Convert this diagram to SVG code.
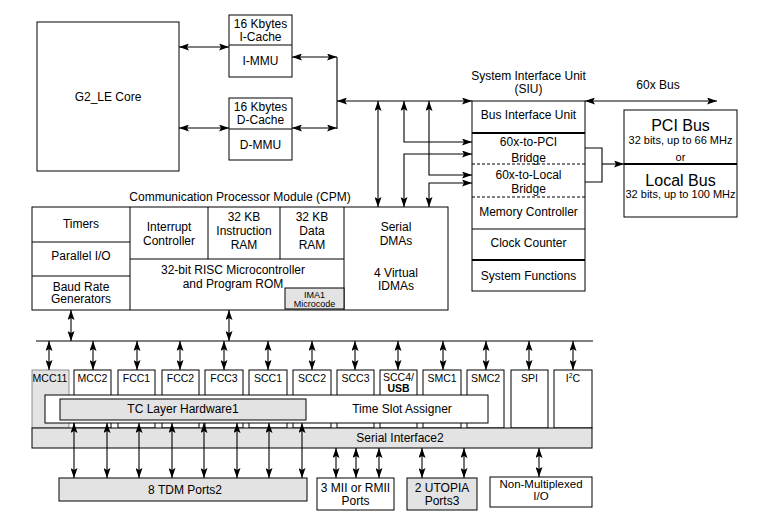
<svg xmlns="http://www.w3.org/2000/svg" width="761" height="513" viewBox="0 0 761 513">
<style>
text{font-family:"Liberation Sans",Arial,sans-serif;font-size:12px;fill:#000;text-anchor:middle}
.s{font-size:10.5px}
.t{font-size:11px}
.b{font-size:16px}
.m{font-size:9px}
.n{font-size:11.5px}
.box{fill:#fff;stroke:#000;stroke-width:1}
.g{fill:#e3e3e3;stroke:#000;stroke-width:1}
.ln{fill:none;stroke:#000;stroke-width:1}
.th{fill:none;stroke:#000;stroke-width:2}
.ds{fill:none;stroke:#000;stroke-width:1.2;stroke-dasharray:3 2}
.c{fill:none;stroke:#000;stroke-width:1.1;marker-start:url(#a);marker-end:url(#a)}
.c1{fill:none;stroke:#000;stroke-width:1.1;marker-end:url(#a)}
.p{fill:none;stroke:#000;stroke-width:1.1}
</style>
<defs>
<marker id="a" viewBox="0 0 10 7" refX="10" refY="3.5" markerWidth="10" markerHeight="7" markerUnits="userSpaceOnUse" orient="auto-start-reverse">
<path d="M0,0 L10,3.5 L0,7 L2,3.5 z" fill="#000"/>
</marker>
</defs>
<rect width="761" height="513" fill="#fff"/>

<g id="core"><rect class="box" x="37" y="22" width="142" height="149"/><text x="108" y="101">G2_LE Core</text></g>
<g id="icache"><rect class="box" x="229" y="15" width="63" height="62"/><line class="ln" x1="229" y1="45" x2="292" y2="45"/><text x="260.5" y="28">16 Kbytes</text><text x="260.5" y="41">I-Cache</text><text x="260.5" y="65">I-MMU</text></g>
<g id="dcache"><rect class="box" x="229" y="98" width="63" height="62"/><line class="ln" x1="229" y1="129" x2="292" y2="129"/><text x="260.5" y="111">16 Kbytes</text><text x="260.5" y="124">D-Cache</text><text x="260.5" y="149">D-MMU</text></g>

<g id="siu">
<text x="528.5" y="80">System Interface Unit</text><text x="528.5" y="93">(SIU)</text>
<rect class="box" x="472" y="101" width="113" height="190"/>
<line class="th" x1="472" y1="133" x2="585" y2="133"/>
<line class="ds" x1="472" y1="164" x2="585" y2="164"/>
<line class="ds" x1="472" y1="197" x2="585" y2="197"/>
<line class="ln" x1="472" y1="229" x2="585" y2="229"/>
<line class="th" x1="472" y1="260" x2="585" y2="260"/>
<text x="528.5" y="119">Bus Interface Unit</text>
<text x="528.5" y="146">60x-to-PCI</text><text x="528.5" y="162">Bridge</text>
<text x="528.5" y="179">60x-to-Local</text><text x="528.5" y="192.5">Bridge</text>
<text x="528.5" y="216">Memory Controller</text>
<text x="528.5" y="247">Clock Counter</text>
<text x="528.5" y="280">System Functions</text>
</g>
<g id="bus60x"><text x="658" y="89">60x Bus</text></g>
<g id="pci">
<rect class="box" x="624" y="110" width="113" height="107"/>
<line class="th" x1="624" y1="164" x2="737" y2="164"/>
<text class="b" x="680.5" y="131">PCI Bus</text>
<text class="t" x="680.5" y="144">32 bits, up to 66 MHz</text>
<text class="t" x="680.5" y="160.5">or</text>
<text class="b" x="680.5" y="185.5">Local Bus</text>
<text class="t" x="680.5" y="198">32 bits, up to 100 MHz</text>
</g>

<g id="cpm">
<text x="240" y="200.5">Communication Processor Module (CPM)</text>
<rect class="box" x="32" y="207" width="416" height="103"/>
<line class="ln" x1="130" y1="207" x2="130" y2="310"/>
<line class="ln" x1="32" y1="242" x2="130" y2="242"/>
<line class="ln" x1="32" y1="276" x2="130" y2="276"/>
<line class="ln" x1="208" y1="207" x2="208" y2="259"/>
<line class="ln" x1="280" y1="207" x2="280" y2="259"/>
<line class="ln" x1="130" y1="259" x2="344" y2="259"/>
<line class="ln" x1="344" y1="207" x2="344" y2="310"/>
<g id="timers"><text x="81" y="227.5">Timers</text></g>
<g id="pio"><text x="81" y="259.5">Parallel I/O</text></g>
<g id="brg"><text x="81" y="290.5">Baud Rate</text><text x="81" y="303">Generators</text></g>
<g id="intc"><text x="169" y="231">Interrupt</text><text x="169" y="245.3">Controller</text></g>
<g id="iram"><text x="244" y="221">32 KB</text><text x="244" y="235">Instruction</text><text x="244" y="248.5">RAM</text></g>
<g id="dram"><text x="312" y="221">32 KB</text><text x="312" y="235">Data</text><text x="312" y="248.5">RAM</text></g>
<g id="risc"><text x="233" y="274.3">32-bit RISC Microcontroller</text><text x="233" y="288.3">and Program ROM</text></g>
<g id="ima"><rect class="g" x="285" y="288" width="59" height="21"/><text class="m" x="314.5" y="297.5">IMA1</text><text class="m" x="314.5" y="306.5">Microcode</text></g>
<g id="dma"><text x="396" y="231">Serial</text><text x="396" y="245">DMAs</text><text x="396" y="277">4 Virtual</text><text x="396" y="290">IDMAs</text></g>
</g>

<g id="mcc1"><rect x="32" y="370" width="37" height="58" fill="#e3e3e3" stroke="#777" stroke-width="0.8"/><text class="s" x="50" y="381.5">MCC11</text></g>
<g id="mcc2"><rect class="box" x="74" y="370" width="37" height="58"/><text class="s" x="92.5" y="381.5">MCC2</text></g>
<g id="fcc1"><rect class="box" x="118" y="370" width="37" height="58"/><text class="s" x="136.5" y="381.5">FCC1</text></g>
<g id="fcc2"><rect class="box" x="162" y="370" width="37" height="58"/><text class="s" x="180.5" y="381.5">FCC2</text></g>
<g id="fcc3"><rect class="box" x="205" y="370" width="38" height="58"/><text class="s" x="224" y="381.5">FCC3</text></g>
<g id="scc1"><rect class="box" x="249" y="370" width="38" height="58"/><text class="s" x="268" y="381.5">SCC1</text></g>
<g id="scc2"><rect class="box" x="293" y="370" width="38" height="58"/><text class="s" x="312" y="381.5">SCC2</text></g>
<g id="scc3"><rect class="box" x="337" y="370" width="37" height="58"/><text class="s" x="355.5" y="381.5">SCC3</text></g>
<g id="scc4"><rect class="box" x="380" y="370" width="37" height="58"/><text class="s" x="398.5" y="381">SCC4/</text><text class="s" x="398.5" y="392" font-weight="bold">USB</text></g>
<g id="smc1"><rect class="box" x="423" y="370" width="38" height="58"/><text class="s" x="442" y="381.5">SMC1</text></g>
<g id="smc2"><rect class="box" x="467" y="370" width="37" height="58"/><text class="s" x="485.5" y="381.5">SMC2</text></g>
<g id="spi"><rect class="box" x="511" y="370" width="37" height="58"/><text class="s" x="529.5" y="381.5">SPI</text></g>
<g id="i2c"><rect class="box" x="554" y="370" width="38" height="58"/><text class="s" x="573" y="381.5">I<tspan font-size="7" dy="-4">2</tspan><tspan dy="4">C</tspan></text></g>

<g id="tsa"><rect class="box" x="45" y="395" width="443" height="28"/><text x="402" y="413.3">Time Slot Assigner</text></g>
<g id="tc"><rect class="g" x="60" y="399" width="246" height="21" stroke-width="1.3"/><text x="183" y="413.3">TC Layer Hardware1</text></g>
<g id="si"><rect class="g" x="32" y="428" width="560" height="20"/><text x="400" y="442.3">Serial Interface2</text></g>

<g id="tdm"><rect class="g" x="59" y="478" width="248" height="23"/><text x="185" y="494.3">8 TDM Ports2</text></g>
<g id="mii"><rect class="box" x="317" y="478" width="77" height="32"/><text x="355.5" y="492">3 MII or RMII</text><text x="355.5" y="504.5">Ports</text></g>
<g id="utopia"><rect class="g" x="407" y="478" width="70" height="32"/><text x="442" y="492">2 UTOPIA</text><text x="442" y="504.5">Ports3</text></g>
<g id="nonmux"><rect class="box" x="490" y="477" width="102" height="30"/><text class="n" x="541" y="487.5">Non-Multiplexed</text><text class="n" x="541" y="499.5">I/O</text></g>

<g id="connectors">
<line class="c" x1="179" y1="47" x2="229" y2="47"/>
<line class="c" x1="179" y1="128" x2="229" y2="128"/>
<line class="c" x1="292" y1="57" x2="337" y2="57"/>
<line class="c" x1="292" y1="128" x2="337" y2="128"/>
<line class="p" x1="337" y1="57" x2="337" y2="129"/>
<line class="c" x1="337" y1="101" x2="472" y2="101"/>
<line class="c" x1="378" y1="101" x2="378" y2="207"/>
<path class="c" d="M472,142 L404,142 L404,101"/>
<path class="c" d="M472,154 L404,154 L404,207"/>
<path class="c" d="M472,175 L429,175 L429,101"/>
<path class="c" d="M472,183 L429,183 L429,207"/>
<line class="c" x1="585" y1="101" x2="717" y2="101"/>
<path class="p" d="M585,148 L602,148 L602,182 L585,182"/>
<line class="c1" x1="602" y1="164" x2="624" y2="164"/>
<line class="c" x1="71" y1="310" x2="71" y2="341"/>
<line class="c" x1="229" y1="310" x2="229" y2="341"/>
<line class="p" x1="36" y1="341" x2="593" y2="341"/>
<line class="c" x1="49" y1="341" x2="49" y2="370"/>
<line class="c" x1="93" y1="341" x2="93" y2="370"/>
<line class="c" x1="137" y1="341" x2="137" y2="370"/>
<line class="c" x1="180" y1="341" x2="180" y2="370"/>
<line class="c" x1="224" y1="341" x2="224" y2="370"/>
<line class="c" x1="268" y1="341" x2="268" y2="370"/>
<line class="c" x1="312" y1="341" x2="312" y2="370"/>
<line class="c" x1="355" y1="341" x2="355" y2="370"/>
<line class="c" x1="398" y1="341" x2="398" y2="370"/>
<line class="c" x1="443" y1="341" x2="443" y2="370"/>
<line class="c" x1="486" y1="341" x2="486" y2="370"/>
<line class="c" x1="529" y1="341" x2="529" y2="370"/>
<line class="c" x1="573" y1="341" x2="573" y2="370"/>
<line class="c" x1="74" y1="423" x2="74" y2="478"/>
<line class="c" x1="107" y1="423" x2="107" y2="478"/>
<line class="c" x1="139" y1="423" x2="139" y2="478"/>
<line class="c" x1="172" y1="423" x2="172" y2="478"/>
<line class="c" x1="204" y1="423" x2="204" y2="478"/>
<line class="c" x1="237" y1="423" x2="237" y2="478"/>
<line class="c" x1="269" y1="423" x2="269" y2="478"/>
<line class="c" x1="302" y1="423" x2="302" y2="478"/>
<line class="c" x1="336" y1="448" x2="336" y2="478"/>
<line class="c" x1="356" y1="448" x2="356" y2="478"/>
<line class="c" x1="379" y1="448" x2="379" y2="478"/>
<line class="c" x1="422" y1="448" x2="422" y2="478"/>
<line class="c" x1="464" y1="448" x2="464" y2="478"/>
<line class="c" x1="539" y1="448" x2="539" y2="477"/>
</g>
</svg>
